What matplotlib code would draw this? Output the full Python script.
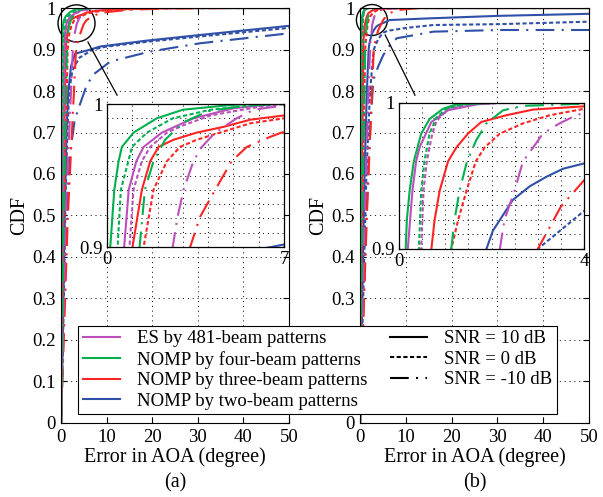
import numpy as np
import matplotlib
matplotlib.use('Agg')
import matplotlib.pyplot as plt
from matplotlib.patches import Circle
from matplotlib.lines import Line2D
from matplotlib.transforms import ScaledTranslation

plt.rcParams['font.family'] = ['Liberation Serif', 'DejaVu Serif']
plt.rcParams['font.size'] = 13

methods = ['ES by 481-beam patterns', 'NOMP by four-beam patterns',
           'NOMP by three-beam patterns', 'NOMP by two-beam patterns']
colors = ['#BC4FBC', '#00B04F', '#FF2424', '#3050A8']
snr_labels = ['SNR = 10 dB', 'SNR = 0 dB', 'SNR = -10 dB']
styles = ['-', (0, (2, 1.2)), (0, (9, 3.5, 1, 3.5))]

#----panel (a): error in AOA (deg) vs CDF, per method, SNR = 10 / 0 / -10 dB----
a_es_10_x = [0, 0.3, 0.68, 0.86, 1.16, 1.45, 2.17, 3.42, 5.0, 6.6, 50]
a_es_10_y = [0, 0.5, 0.9, 0.94, 0.96, 0.97, 0.98, 0.99, 0.997, 1.0, 1.0]
a_es_0_x = [0, 0.4, 0.89, 1.05, 1.38, 1.71, 2.37, 3.0, 4.1, 6.0, 7.0, 50]
a_es_0_y = [0, 0.5, 0.9, 0.94, 0.96, 0.97, 0.98, 0.985, 0.992, 0.998, 1.0, 1.0]
a_es_m10_x = [0, 1.0, 2.6, 2.79, 3.03, 3.42, 3.75, 4.28, 5.13, 5.8, 7.0, 9, 50]
a_es_m10_y = [0, 0.5, 0.9, 0.921, 0.94, 0.96, 0.97, 0.98, 0.99, 0.996, 0.999, 1.0, 1.0]

a_four_10_x = [0, 0.05, 0.13, 0.29, 0.46, 0.59, 1.05, 1.97, 3.0, 5.0, 6.0, 50]
a_four_10_y = [0, 0.5, 0.9, 0.94, 0.96, 0.97, 0.98, 0.99, 0.996, 0.9995, 1, 1]
a_four_0_x = [0, 0.2, 0.42, 0.55, 0.99, 1.58, 2.6, 4.1, 6.3, 50]
a_four_0_y = [0, 0.5, 0.9, 0.94, 0.97, 0.98, 0.99, 0.996, 1, 1]
a_four_m10_x = [0, 0.6, 1.29, 1.5, 1.84, 2.3, 3.0, 4.0, 5.5, 7, 50]
a_four_m10_y = [0, 0.5, 0.9, 0.94, 0.96, 0.975, 0.987, 0.995, 0.999, 1, 1]

a_three_10_x = [0, 0.45, 1.01, 1.38, 1.71, 2.04, 2.63, 3.55, 4.6, 5.66, 7.0, 10, 20, 30, 50]
a_three_10_y = [0, 0.5, 0.9, 0.94, 0.96, 0.97, 0.975, 0.98, 0.984, 0.989, 0.992, 0.996, 0.999, 1, 1]
a_three_0_x = [0, 0.7, 1.45, 1.84, 2.37, 2.89, 3.55, 4.47, 5.66, 7.0, 10, 20, 35, 50]
a_three_0_y = [0, 0.5, 0.9, 0.94, 0.96, 0.97, 0.975, 0.98, 0.9865, 0.99, 0.995, 0.999, 1, 1]
a_three_m10_x = [0, 1.5, 3.29, 3.68, 4.28, 4.93, 5.53, 6.45, 6.9, 8, 10, 15, 25, 40, 50]
a_three_m10_y = [0, 0.5, 0.9, 0.921, 0.94, 0.96, 0.97, 0.977, 0.98, 0.985, 0.99, 0.996, 0.999, 1.0, 1.0]

a_two_10_x = [0, 0.3, 0.6, 0.9, 1.2, 1.6, 2.2, 3.1, 6.5, 8.5, 18.5, 30.5, 50]
a_two_10_y = [0, 0.15, 0.35, 0.55, 0.7, 0.8, 0.86, 0.89, 0.9, 0.907, 0.921, 0.935, 0.957]
a_two_0_x = [0, 0.35, 0.7, 1.0, 1.4, 1.8, 2.5, 4.0, 7.0, 10, 20, 32, 50]
a_two_0_y = [0, 0.15, 0.35, 0.55, 0.7, 0.8, 0.85, 0.88, 0.9, 0.907, 0.92, 0.933, 0.952]
a_two_m10_x = [0, 0.5, 1.0, 1.5, 2.0, 3.0, 3.9, 5.5, 7.0, 10.8, 19.5, 30.5, 50]
a_two_m10_y = [0, 0.2, 0.4, 0.55, 0.65, 0.73, 0.76, 0.81, 0.839, 0.871, 0.895, 0.915, 0.939]

#----panel (b)----
b_es_10_x = [0, 0.08, 0.19, 0.29, 0.37, 0.45, 0.7, 1.06, 1.67, 2.1, 50]
b_es_10_y = [0, 0.5, 0.9, 0.94, 0.96, 0.97, 0.987, 0.995, 0.999, 1, 1]
b_es_0_x = [0, 0.2, 0.48, 0.53, 0.6, 0.72, 0.81, 1.06, 1.53, 2.2, 50]
b_es_0_y = [0, 0.5, 0.9, 0.94, 0.96, 0.979, 0.9875, 0.996, 0.999, 1, 1]
b_es_m10_x = [0, 1.0, 2.18, 2.28, 2.5, 2.68, 2.9, 3.11, 3.47, 3.83, 4.0, 5, 6, 8, 50]
b_es_m10_y = [0, 0.5, 0.9, 0.92, 0.94, 0.96, 0.9695, 0.979, 0.986, 0.9916, 0.993, 0.996, 0.998, 1, 1]

b_four_10_x = [0, 0.06, 0.144, 0.17, 0.23, 0.32, 0.48, 0.66, 0.95, 1.24, 1.8, 50]
b_four_10_y = [0, 0.5, 0.9, 0.92, 0.94, 0.96, 0.979, 0.989, 0.996, 0.999, 1, 1]
b_four_0_x = [0, 0.2, 0.43, 0.48, 0.55, 0.66, 0.81, 1.02, 1.38, 2.0, 50]
b_four_0_y = [0, 0.5, 0.9, 0.94, 0.96, 0.979, 0.99, 0.996, 0.999, 1, 1]
b_four_m10_x = [0, 0.5, 1.13, 1.2, 1.31, 1.47, 1.67, 1.89, 2.25, 2.68, 3.55, 4.5, 50]
b_four_m10_y = [0, 0.5, 0.9, 0.92, 0.94, 0.96, 0.9745, 0.986, 0.995, 0.998, 0.999, 1, 1]

b_three_10_x = [0, 0.35, 0.7, 0.77, 0.88, 1.06, 1.24, 1.49, 1.78, 2.32, 2.9, 4.0, 6, 10, 50]
b_three_10_y = [0, 0.5, 0.9, 0.92, 0.94, 0.96, 0.9695, 0.979, 0.987, 0.9916, 0.9955, 0.9977, 0.999, 1, 1]
b_three_0_x = [0, 0.5, 1.13, 1.28, 1.46, 1.66, 1.85, 2.18, 2.68, 3.26, 4.0, 6, 10, 50]
b_three_0_y = [0, 0.5, 0.9, 0.92, 0.94, 0.96, 0.9695, 0.979, 0.986, 0.9916, 0.996, 0.998, 1, 1]
b_three_m10_x = [0, 1.5, 3.0, 3.5, 4.0, 5, 6, 8, 12, 20, 50]
b_three_m10_y = [0, 0.5, 0.9, 0.929, 0.947, 0.97, 0.985, 0.995, 0.999, 1, 1]

b_two_10_x = [0, 0.5, 1.0, 1.5, 1.89, 2.03, 2.46, 2.83, 3.19, 3.55, 4.0, 6.5, 15, 30, 50]
b_two_10_y = [0, 0.3, 0.6, 0.8, 0.9, 0.9125, 0.9336, 0.943, 0.9495, 0.955, 0.9586, 0.971, 0.975, 0.981, 0.986]
b_two_0_x = [0, 0.7, 1.4, 2.2, 3.0, 3.5, 4.0, 5.0, 6.0, 10, 16, 30, 50]
b_two_0_y = [0, 0.3, 0.6, 0.8, 0.9, 0.913, 0.926, 0.94, 0.945, 0.952, 0.959, 0.961, 0.967]
b_two_m10_x = [0, 0.8, 1.6, 2.2, 2.9, 4.0, 5.1, 6.5, 8, 16, 30.5, 50]
b_two_m10_y = [0, 0.3, 0.55, 0.7, 0.826, 0.86, 0.887, 0.91, 0.927, 0.943, 0.947, 0.947]

panel_a = [[(a_es_10_x, a_es_10_y), (a_es_0_x, a_es_0_y), (a_es_m10_x, a_es_m10_y)],
           [(a_four_10_x, a_four_10_y), (a_four_0_x, a_four_0_y), (a_four_m10_x, a_four_m10_y)],
           [(a_three_10_x, a_three_10_y), (a_three_0_x, a_three_0_y), (a_three_m10_x, a_three_m10_y)],
           [(a_two_10_x, a_two_10_y), (a_two_0_x, a_two_0_y), (a_two_m10_x, a_two_m10_y)]]
panel_b = [[(b_es_10_x, b_es_10_y), (b_es_0_x, b_es_0_y), (b_es_m10_x, b_es_m10_y)],
           [(b_four_10_x, b_four_10_y), (b_four_0_x, b_four_0_y), (b_four_m10_x, b_four_m10_y)],
           [(b_three_10_x, b_three_10_y), (b_three_0_x, b_three_0_y), (b_three_m10_x, b_three_m10_y)],
           [(b_two_10_x, b_two_10_y), (b_two_0_x, b_two_0_y), (b_two_m10_x, b_two_m10_y)]]

LW = 1.5
GRID = dict(color='k', linestyle=(0, (1, 4)), linewidth=0.7)


def draw_curves(ax, panel):
    # draw order: two-beam first so the others sit on top
    for m in [3, 2, 0, 1]:
        for s in range(3):
            x, y = panel[m][s]
            ax.plot(x, y, color=colors[m], lw=LW, linestyle=styles[s])


def style_main(ax, tag):
    ax.set_xlim(0, 50)
    ax.set_ylim(0, 1)
    ax.set_xticks(np.arange(0, 51, 10))
    yt = np.round(np.arange(0, 1.01, 0.1), 1)
    ax.set_yticks(yt)
    ax.set_yticklabels(['0'] + ['%.1f' % v for v in yt[1:-1]] + ['1'])
    ax.tick_params(direction='in', top=True, right=True, length=4, width=0.8, pad=4,
                   labelsize=13.5)
    ax.grid(True, **GRID)
    ax.set_xlabel('Error in AOA (degree)', fontsize=14.5, labelpad=1)
    ax.set_ylabel('CDF', fontsize=14.5, labelpad=2)
    ax.text(0.5, -0.145, tag, transform=ax.transAxes, ha='center', va='center',
            fontsize=14.5)
    for sp in ax.spines.values():
        sp.set_linewidth(0.8)


def style_inset(ax, xmax, step):
    ax.set_xlim(0, xmax)
    ax.set_ylim(0.9, 1)
    ax.set_xticks([0, xmax])
    ax.set_xticklabels(['0', str(xmax)])
    ax.set_yticks([0.9, 1])
    ax.set_yticklabels(['0.9', '1'])
    ax.set_xticks(np.arange(step, xmax - 1e-9, step), minor=True)
    ax.set_yticks(np.arange(0.91, 0.995, 0.01), minor=True)
    ax.tick_params(which='major', direction='in', top=True, right=True, length=3, pad=3,
                   labelsize=13.5)
    ax.tick_params(which='minor', length=0)
    ax.grid(True, which='minor', **GRID)
    for sp in ax.spines.values():
        sp.set_linewidth(0.9)


def zoom_mark(ax, center, r_px, start, end):
    tr = fig.dpi_scale_trans + ScaledTranslation(center[0], center[1], ax.transData)
    c = Circle((0, 0), r_px / fig.dpi, transform=tr, fill=False, ec='k', lw=1.0, clip_on=False)
    ax.add_artist(c)
    ax.plot([start[0], end[0]], [start[1], end[1]], color='k', lw=0.9, clip_on=False)


fig = plt.figure(figsize=(6.03, 4.97), dpi=100)
ax_a = fig.add_axes([0.1012, 0.1489, 0.378, 0.835])
ax_b = fig.add_axes([0.597, 0.1489, 0.380, 0.835])

draw_curves(ax_a, panel_a)
draw_curves(ax_b, panel_b)
style_main(ax_a, '(a)')
style_main(ax_b, '(b)')

zoom_mark(ax_a, (3.4, 0.963), 18.5, (5.9, 0.918), (12.3, 0.79))
zoom_mark(ax_b, (2.6, 0.971), 15.5, (5.5, 0.935), (12.0, 0.79))

in_a = fig.add_axes([0.1774, 0.503, 0.2935, 0.2877])
in_b = fig.add_axes([0.6617, 0.499, 0.3068, 0.2938])
draw_curves(in_a, panel_a)
draw_curves(in_b, panel_b)
style_inset(in_a, 7, 1)
style_inset(in_b, 4, 0.5)

handles = [Line2D([], [], color=c, lw=LW) for c in colors]
handles += [Line2D([], [], color='k', lw=LW, linestyle=s) for s in styles]
handles += [Line2D([], [], alpha=0)]
labels = methods + snr_labels + ['']
leg = fig.legend(handles, labels, ncol=2, loc='center', bbox_to_anchor=(0.5265, 0.2555),
                 frameon=True, fancybox=False, edgecolor='k', framealpha=1,
                 prop={'size': 13.5}, borderpad=0.25, labelspacing=0.18,
                 handlelength=2.0, handletextpad=0.9, columnspacing=1.2, borderaxespad=0)
leg.get_frame().set_linewidth(0.8)

fig.savefig('out.png', dpi=100)
